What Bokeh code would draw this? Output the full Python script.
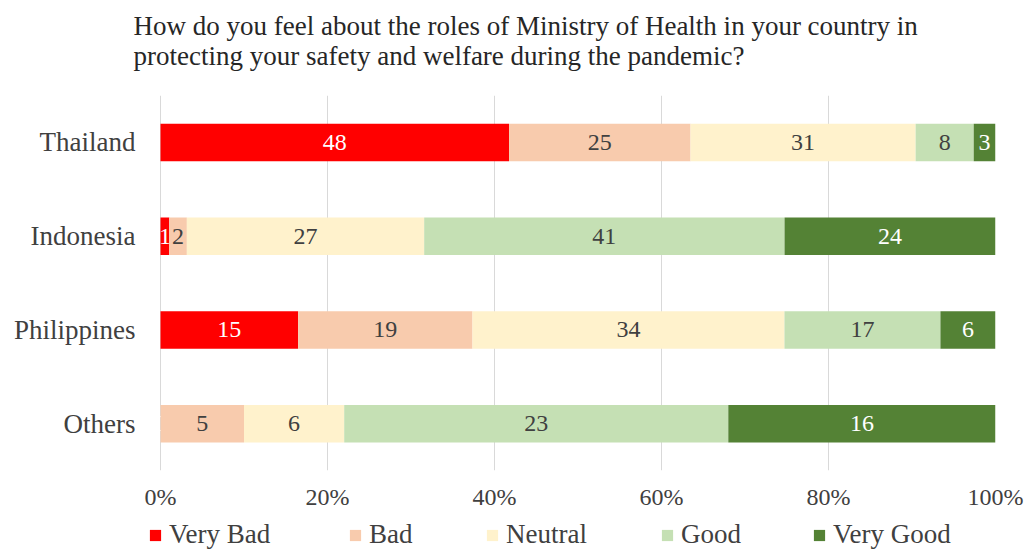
from bokeh.plotting import figure
from bokeh.layouts import column
from bokeh.models import (Range1d, FixedTicker, NumeralTickFormatter, Legend,
                          LegendItem, Title, ColumnDataSource)
from bokeh.core.properties import value
from bokeh.embed import file_html
from bokeh.resources import INLINE

countries = ["Thailand", "Indonesia", "Philippines", "Others"]
levels = ["Very Bad", "Bad", "Neutral", "Good", "Very Good"]
very_bad = [48, 1, 15, 0]
bad = [25, 2, 19, 5]
neutral = [31, 27, 34, 6]
good = [8, 41, 17, 23]
very_good = [3, 24, 6, 16]
series = [very_bad, bad, neutral, good, very_good]
colors = ["#FF0000", "#F8CBAD", "#FFF2CC", "#C5E0B4", "#548235"]
label_colors = ["#FFFFFF", "#404040", "#404040", "#404040", "#FFFFFF"]
tick_values = [0, 0.2, 0.4, 0.6, 0.8, 1.0]
title_lines = ["How do you feel about the roles of Ministry of Health in your country in",
               "protecting your safety and welfare during the pandemic?"]

# ---- layout / style constants (pixels) ----
FONT = "Liberation Serif"
TXT = "#404040"
W = 1024
FRAME_L, FRAME_R = 148, 995          # frame edges (0% sits 12px inside)
ZERO_PAD = 12
PLOT_W = FRAME_R - FRAME_L - ZERO_PAD
legend_x = [148, 348, 485, 660, 812]  # screen x of each legend entry
HEAD_H, MAIN_H, LEG_H = 95, 423, 32

# ---- header (title) ----
h = figure(width=W, height=HEAD_H, output_backend="svg", toolbar_location=None,
           x_axis_location=None, y_axis_location=None,
           min_border_left=FRAME_L, min_border_right=W - FRAME_R,
           min_border_top=0, min_border_bottom=0)
h.title = None
h.outline_line_color = None
h.xgrid.grid_line_color = None
h.ygrid.grid_line_color = None
h.add_layout(Title(text="\n".join(title_lines), align="left", offset=133 - FRAME_L,
                   text_font=FONT, text_font_size="27px", text_font_style="normal",
                   text_color="#262626", text_line_height=1.0,
                   vertical_align="top", standoff=20), "above")

# ---- main chart ----
p = figure(width=W, height=MAIN_H, output_backend="svg", toolbar_location=None,
           y_range=list(reversed(countries)),
           x_range=Range1d(-ZERO_PAD / PLOT_W, 1),
           min_border_left=FRAME_L, min_border_right=W - FRAME_R,
           min_border_top=0, min_border_bottom=48)
p.title = None
p.outline_line_color = None

totals = [sum(s[i] for s in series) for i in range(len(countries))]
cum = [0.0] * len(countries)
for k, s in enumerate(series):
    left = [cum[i] for i in range(len(countries))]
    right = [cum[i] + s[i] / totals[i] for i in range(len(countries))]
    cum = right
    src = ColumnDataSource(dict(y=countries, left=left, right=right,
                                mid=[(a + b) / 2 for a, b in zip(left, right)],
                                lab=[str(v) for v in s]))
    p.hbar(y="y", left="left", right="right", height=0.4, source=src,
           fill_color=colors[k], line_color=None)
    p.text(x="mid", y="y", text="lab", source=src, text_align="center",
           text_baseline="middle", text_font=value(FONT), text_font_size="24px",
           text_color=label_colors[k])

p.xaxis.ticker = FixedTicker(ticks=tick_values)
p.xaxis.formatter = NumeralTickFormatter(format="0%")
for ax in (p.xaxis, p.yaxis):
    ax.axis_line_color = None
    ax.major_tick_line_color = None
    ax.minor_tick_line_color = None
    ax.major_tick_out = 0
    ax.major_tick_in = 0
    ax.major_label_text_font = FONT
    ax.major_label_text_color = TXT
p.xaxis.major_label_text_font_size = "24px"
p.yaxis.major_label_text_font_size = "27px"
p.xaxis.major_label_standoff = 13
p.yaxis.major_label_standoff = 25 - ZERO_PAD
p.xgrid.grid_line_color = "#D9D9D9"
p.xgrid.grid_line_width = 1
p.ygrid.grid_line_color = None

# ---- legend strip ----
q = figure(width=W, height=LEG_H, output_backend="svg", toolbar_location=None,
           x_range=Range1d(0, 1), y_range=Range1d(0, 1),
           x_axis_location=None, y_axis_location=None,
           min_border_left=FRAME_L, min_border_right=W - FRAME_R,
           min_border_top=0, min_border_bottom=0)
q.title = None
q.outline_line_color = None
q.xgrid.grid_line_color = None
q.ygrid.grid_line_color = None
for k, lev in enumerate(levels):
    key_src = ColumnDataSource(dict(y=[0], left=[0], right=[0]))
    r = q.hbar(y="y", left="left", right="right", height=0, source=key_src,
               fill_color=colors[k], line_color=None)
    lg = Legend(items=[LegendItem(label=lev, renderers=[r])],
                location=(legend_x[k] - FRAME_L, 0), orientation="horizontal",
                label_text_font=FONT, label_text_font_size="27px",
                label_text_color=TXT, glyph_width=14, glyph_height=14,
                label_standoff=7, border_line_color=None,
                background_fill_alpha=0, padding=0, margin=0)
    q.add_layout(lg, "center")

open("out.html", "w").write(file_html(column(h, p, q, spacing=0), INLINE))
